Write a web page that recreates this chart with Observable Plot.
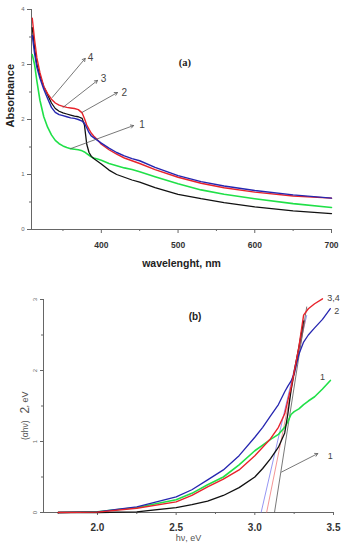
<!DOCTYPE html>
<html><head><meta charset="utf-8">
<script src="https://cdn.jsdelivr.net/npm/d3@7"></script>
<script src="https://cdn.jsdelivr.net/npm/@observablehq/plot@0.6"></script>
<style>
body{margin:0;background:#fff;}
#c{width:357px;height:550px;overflow:hidden;}
#c svg{display:block;}
</style>
</head><body><div id="c"></div>
<script>
// ---------- Panel (a): absorbance vs wavelength ----------
const wavelength = [310,313,316,320,325,330,335,340,345,350,355,360,365,370,375,378,381,384,387,390,395,400,410,420,430,440,450,470,500,530,560,600,650,700];
const absBlack = [3.67,3.3,3.0,2.8,2.6,2.45,2.3,2.2,2.15,2.12,2.1,2.08,2.06,2.05,2.02,1.9,1.55,1.4,1.33,1.29,1.24,1.19,1.08,1.0,0.95,0.9,0.86,0.76,0.64,0.56,0.49,0.41,0.34,0.29];
const absRed   = [3.84,3.45,3.12,2.85,2.6,2.47,2.37,2.3,2.26,2.24,2.22,2.21,2.2,2.18,2.12,2.02,1.9,1.82,1.75,1.7,1.63,1.55,1.45,1.37,1.3,1.25,1.2,1.09,0.95,0.84,0.76,0.68,0.61,0.57];
const absBlue  = [3.53,3.2,2.95,2.75,2.55,2.38,2.22,2.13,2.09,2.07,2.05,2.03,2.02,2.0,1.97,1.93,1.85,1.76,1.7,1.67,1.62,1.57,1.48,1.4,1.34,1.29,1.25,1.13,0.98,0.87,0.79,0.71,0.63,0.57];
const absGreen = [3.18,3.0,2.7,2.35,2.05,1.86,1.72,1.62,1.56,1.52,1.49,1.47,1.46,1.45,1.43,1.41,1.38,1.35,1.32,1.3,1.28,1.26,1.2,1.16,1.12,1.09,1.05,0.96,0.83,0.72,0.64,0.56,0.47,0.40];
const xTicksA = [400,500,600,700];
const xMinorA = [350,450,550,650];
const yTicksA = [0,1,2,3,4];
const yMinorA = [0.5,1.5,2.5,3.5];
const arrowsA = [
  {x1:336,y1:2.40,x2:379,y2:3.11,label:"4",lx:386,ly:3.13},
  {x1:350,y1:2.22,x2:395,y2:2.71,label:"3",lx:403,ly:2.74},
  {x1:375,y1:2.13,x2:421,y2:2.49,label:"2",lx:430,ly:2.48},
  {x1:360,y1:1.47,x2:442,y2:1.89,label:"1",lx:453,ly:1.91}
];
const panelLabelA = [{x:509,y:3.04,t:"(a)"}];

// ---------- Panel (b): Tauc plot ----------
const energy = [1.75,2.0,2.25,2.5,2.6,2.7,2.8,2.9,3.0,3.05,3.1,3.15,3.19,3.21,3.23,3.25,3.28,3.31,3.34,3.38,3.43,3.48];
const taucBlue  = [0,0.01,0.08,0.22,0.32,0.46,0.6,0.8,1.06,1.2,1.36,1.52,1.7,1.78,1.85,1.95,2.23,2.4,2.5,2.6,2.72,2.87];
const taucRed   = [0,0.005,0.06,0.15,0.24,0.36,0.47,0.6,0.8,0.92,1.04,1.2,1.39,1.58,1.76,1.98,2.33,2.78,2.87,2.94,3.01,null];
const taucGreen = [0,0.01,0.07,0.18,0.27,0.39,0.5,0.67,0.87,0.95,1.03,1.1,1.2,1.28,1.38,1.42,1.46,1.52,1.57,1.63,1.74,1.86];
const taucBlack = [0,0,0.01,0.07,0.11,0.16,0.24,0.35,0.5,0.62,0.76,0.92,1.12,1.39,1.72,1.98,2.33,2.7,null,null,null,null];
const tangents = [
  {x1:3.04,y1:0,x2:3.33,y2:2.78,c:"#7b7bf0"},
  {x1:3.075,y1:0,x2:3.32,y2:2.7,c:"#f07a7a"},
  {x1:3.125,y1:0,x2:3.33,y2:2.9,c:"#555"}
];
const xTicksB = [2.0,2.5,3.0,3.5];
const xMinorB = [1.75,2.25,2.75,3.25];
const yTicksB = [0,1,2,3];
const yMinorB = [0.5,1.5,2.5];
const arrowsB = [{x1:3.17,y1:0.57,x2:3.40,y2:0.83,label:"1",lx:3.48,ly:0.8}];
const curveLabelsB = [
  {x:3.50,y:3.02,t:"3,4"},
  {x:3.52,y:2.83,t:"2"},
  {x:3.43,y:1.9,t:"1"}
];
const panelLabelB = [{x:2.62,y:2.75,t:"(b)"}];

const font = "Arial, 'Liberation Sans', sans-serif";
const axisColor = "#666";
const RED = "#e8232b", BLUE = "#2626b0", GREEN = "#20e048", BLACK = "#111";

const pts = (xs, ys) => xs.map((x, i) => ({x, y: ys[i]}));

const chartA = Plot.plot({
  width: 357, height: 280,
  marginLeft: 31, marginRight: 26, marginTop: 9, marginBottom: 51,
  x: {domain: [309, 700]},
  y: {domain: [0, 4]},
  style: {fontFamily: font, background: "#fff"},
  marks: [
    Plot.axisX({ticks: xTicksA, tickSize: 4, tickPadding: 8, fontSize: 8.5, fontWeight: "bold", fill: "#333", stroke: axisColor, label: null}),
    Plot.axisX({ticks: xMinorA, tickSize: 2, text: null, stroke: axisColor, label: null}),
    Plot.axisY({ticks: yTicksA, tickFormat: d => String(d), tickSize: 4, tickPadding: 3, fontSize: 6, fill: "#666", stroke: axisColor, label: null}),
    Plot.axisY({ticks: yMinorA, tickSize: 2, text: null, stroke: axisColor, label: null}),
    Plot.ruleY([0], {stroke: axisColor}),
    Plot.ruleX([309], {stroke: axisColor}),
    Plot.line(pts(wavelength, absGreen), {x: "x", y: "y", stroke: GREEN, strokeWidth: 1.6}),
    Plot.line(pts(wavelength, absBlack), {x: "x", y: "y", stroke: BLACK, strokeWidth: 1.3}),
    Plot.line(pts(wavelength, absRed), {x: "x", y: "y", stroke: RED, strokeWidth: 1.4}),
    Plot.line(pts(wavelength, absBlue), {x: "x", y: "y", stroke: BLUE, strokeWidth: 1.4}),
    Plot.arrow(arrowsA, {x1: "x1", y1: "y1", x2: "x2", y2: "y2", stroke: "#555", strokeWidth: 0.8, headLength: 6}),
    Plot.text(arrowsA, {x: "lx", y: "ly", text: "label", fontSize: 10, fill: "#444"}),
    Plot.text(panelLabelA, {x: "x", y: "y", text: "t", fontSize: 10.5, fontWeight: "bold", fill: "#222", fontFamily: "'Liberation Serif', 'Times New Roman', serif"}),
    Plot.text(["Absorbance"], {frameAnchor: "left", rotate: -90, dx: -21, dy: 8, fontSize: 11, fontWeight: "bold", fill: "#222"}),
    Plot.text(["wavelenght, nm"], {frameAnchor: "bottom", dy: 37, fontSize: 10.5, fontWeight: "bold", fill: "#222"})
  ]
});

const chartB = Plot.plot({
  width: 357, height: 270,
  marginLeft: 43, marginRight: 24, marginTop: 19, marginBottom: 38,
  x: {domain: [1.657, 3.5]},
  y: {domain: [0, 3]},
  style: {fontFamily: font, background: "#fff"},
  marks: [
    Plot.axisX({ticks: xTicksB, tickSize: 3, tickPadding: 8, tickFormat: d => d.toFixed(1), fontSize: 10, fontWeight: "bold", fill: "#333", stroke: axisColor, label: null}),
    Plot.axisX({ticks: xMinorB, tickSize: 2, text: null, stroke: axisColor, label: null}),
    Plot.axisY({ticks: yTicksB, tickFormat: d => String(d), tickSize: 3, tickPadding: 4, fontSize: 6, tickRotate: -90, fill: "#666", stroke: axisColor, label: null}),
    Plot.axisY({ticks: yMinorB, tickSize: 2, text: null, stroke: axisColor, label: null}),
    Plot.ruleY([0], {stroke: axisColor}),
    Plot.ruleX([1.657], {stroke: axisColor}),
    Plot.link(tangents, {x1: "x1", y1: "y1", x2: "x2", y2: "y2", stroke: "c", strokeWidth: 0.8}),
    Plot.line(pts(energy, taucGreen), {x: "x", y: "y", stroke: GREEN, strokeWidth: 1.6}),
    Plot.line(pts(energy, taucBlue), {x: "x", y: "y", stroke: BLUE, strokeWidth: 1.3}),
    Plot.line(pts(energy, taucBlack), {x: "x", y: "y", stroke: BLACK, strokeWidth: 1.3}),
    Plot.line(pts(energy, taucRed), {x: "x", y: "y", stroke: RED, strokeWidth: 1.4}),
    Plot.arrow(arrowsB, {x1: "x1", y1: "y1", x2: "x2", y2: "y2", stroke: "#555", strokeWidth: 0.8, headLength: 6}),
    Plot.text(arrowsB, {x: "lx", y: "ly", text: "label", fontSize: 9, fill: "#444"}),
    Plot.text(curveLabelsB, {x: "x", y: "y", text: "t", fontSize: 9, fill: "#444"}),
    Plot.text(panelLabelB, {x: "x", y: "y", text: "t", fontSize: 10, fontWeight: "bold", fill: "#222"}),
    Plot.text(["hν, eV"], {frameAnchor: "bottom", dy: 28, fontSize: 9, fill: "#555"}),
    Plot.text(["(αhν)"], {frameAnchor: "left", rotate: -90, dx: -18, dy: 14.5, textAnchor: "end", fontSize: 8.5, fill: "#555"}),
    Plot.text(["2"], {frameAnchor: "left", rotate: -90, dx: -18, dy: 7.5, fontSize: 12, fill: "#555"}),
    Plot.text([", eV"], {frameAnchor: "left", rotate: -90, dx: -18, dy: 1.5, textAnchor: "start", fontSize: 9, fill: "#555"})
  ]
});

const c = document.getElementById("c");
c.appendChild(chartA);
c.appendChild(chartB);
</script>
</body></html>
